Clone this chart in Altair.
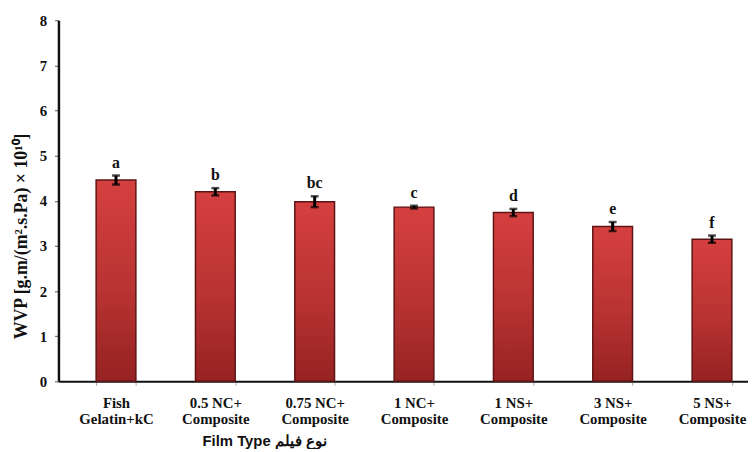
import altair as alt
import pandas as pd

categories = ["Fish|Gelatin+kC", "0.5 NC+|Composite", "0.75 NC+|Composite", "1 NC+|Composite",
              "1 NS+|Composite", "3 NS+|Composite", "5 NS+|Composite"]
wvp = [4.46, 4.20, 3.98, 3.86, 3.74, 3.43, 3.15]
err = [0.10, 0.08, 0.12, 0.03, 0.08, 0.10, 0.08]
letters = ["a", "b", "bc", "c", "d", "e", "f"]

df = pd.DataFrame({"cat": categories, "wvp": wvp, "err": err, "letter": letters})
df["lo"] = df["wvp"] - df["err"]
df["hi"] = df["wvp"] + df["err"]

serif = "'Times New Roman', 'Liberation Serif', serif"

xscale = alt.Scale(domain=categories, paddingInner=0.6, paddingOuter=0.271, align=0.70)
yscale = alt.Scale(domain=[0, 8], nice=False)

x = alt.X("cat:N", scale=xscale, sort=categories,
          axis=alt.Axis(title="Film Type نوع فیلم", labelAngle=0,
                        labelExpr="split(datum.label, '|')",
                        labelFont=serif, labelFontWeight="bold", labelFontSize=15,
                        labelColor="#111", labelLineHeight=17, labelPadding=10,
                        labelBaseline="top",
                        tickBand="extent", tickColor="#aaaaaa", tickSize=4, tickWidth=1,
                        domainColor="#111", domainWidth=2,
                        titleFont="'Arial', 'Liberation Sans', sans-serif", titleFontWeight="bold", titleFontSize=15,
                        titleColor="#111", titleX=208, titleY=60, titleBaseline="middle",
                        titleAlign="center", titleAnchor="start"))

y_axis = alt.Axis(title="WVP  [g.m/(m².s.Pa) × 10¹⁰]", values=list(range(0, 9)),
                  grid=False, labelFont=serif, labelFontWeight="bold", labelFontSize=15,
                  labelColor="#111", labelPadding=8, tickSize=4, tickColor="#555",
                  domainColor="#111", domainWidth=2.5,
                  titleFont=serif, titleFontWeight="bold", titleFontSize=18, titleColor="#111",
                  titleX=-37, titleY=218, titleAnchor="start", titleAlign="center",
                  titleBaseline="middle", titleAngle=270)

base = alt.Chart(df)

bars = base.mark_bar(
    color=alt.Gradient(gradient="linear", x1=0, x2=0, y1=0, y2=1,
                       stops=[alt.GradientStop(color="#d5403f", offset=0),
                              alt.GradientStop(color="#b83332", offset=0.55),
                              alt.GradientStop(color="#962222", offset=1)]),
    stroke="#5e1414", strokeWidth=1.5
).encode(x=x, y=alt.Y("wvp:Q", scale=yscale, axis=y_axis))

rules = base.mark_rule(color="black", strokeWidth=3).encode(
    x=alt.X("cat:N", scale=xscale, sort=categories), y=alt.Y("lo:Q", scale=yscale), y2="hi:Q")

caps_hi = base.mark_tick(color="black", thickness=2.5, size=8).encode(
    x=alt.X("cat:N", scale=xscale, sort=categories), y=alt.Y("hi:Q", scale=yscale))
caps_lo = base.mark_tick(color="black", thickness=2.5, size=8).encode(
    x=alt.X("cat:N", scale=xscale, sort=categories), y=alt.Y("lo:Q", scale=yscale))

text = base.mark_text(font=serif, fontWeight="bold", fontSize=16, color="#111",
                      baseline="bottom", dy=-5).encode(
    x=alt.X("cat:N", scale=xscale, sort=categories), y=alt.Y("hi:Q", scale=yscale),
    text="letter:N")

chart = alt.layer(bars, rules, caps_hi, caps_lo, text).properties(
    width=697, height=365,
    autosize=alt.AutoSizeParams(type="none"),
    padding={"left": 51, "top": 10, "right": 0, "bottom": 66},
    background="white"
).configure_view(stroke=None)

chart.save("out.html", embed_options={"renderer": "svg", "actions": False})
